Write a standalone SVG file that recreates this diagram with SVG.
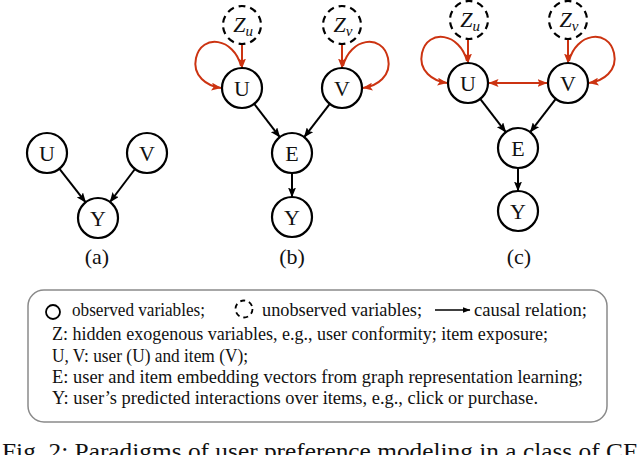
<svg xmlns="http://www.w3.org/2000/svg" width="640" height="455" viewBox="0 0 640 455">
<defs>
<marker id="ab" markerUnits="userSpaceOnUse" markerWidth="10" markerHeight="8" refX="9.5" refY="4" orient="auto">
<path d="M0,0 L10,4 L0,8 L2,4 z" fill="#000"/>
</marker>
<marker id="ar" markerUnits="userSpaceOnUse" markerWidth="10" markerHeight="8" refX="9.5" refY="4" orient="auto-start-reverse">
<path d="M0,0 L10,4 L0,8 L2,4 z" fill="#cc3311"/>
</marker>
<marker id="as" markerUnits="userSpaceOnUse" markerWidth="8" markerHeight="6" refX="7.5" refY="3" orient="auto">
<path d="M0,0 L8,3 L0,6 z" fill="#000"/>
</marker>
</defs>
<style>
text{font-family:'Liberation Serif','Times New Roman','DejaVu Serif',serif}
.n{fill:#fff;stroke:#000;stroke-width:2.2}
.z{fill:#fff;stroke:#000;stroke-width:2.2;stroke-dasharray:7 5;stroke-dashoffset:9.5}
.t{font-size:22px;fill:#111;text-anchor:middle}
.zt{font-style:italic;font-size:22px;fill:#111;text-anchor:middle}
.e{stroke:#000;stroke-width:2;fill:none;marker-end:url(#ab)}
.r{stroke:#cc3311;stroke-width:2;fill:none;marker-end:url(#ar)}
.lg{font-size:18px;fill:#111}
.cap{font-size:24px;fill:#111}
</style>

<g id="connectors">
<line class="e" x1="59.3" y1="168.7" x2="85.7" y2="202.3"/>
<line class="e" x1="135" y1="169" x2="110" y2="202"/>
<line class="e" x1="254.2" y1="103.8" x2="279.8" y2="137.2"/>
<line class="e" x1="329.8" y1="103.8" x2="304.2" y2="137.2"/>
<line class="e" x1="292" y1="173" x2="292" y2="197"/>
<line class="r" x1="242" y1="44" x2="242" y2="68"/>
<line class="r" x1="342" y1="44" x2="342" y2="68"/>
<path class="r" d="M241,66 C234,38 202,33 196,58 C192,76 207,86 221,88"/>
<path class="r" d="M343,66 C350,38 382,33 388,58 C392,76 377,86 363,88"/>
<line class="e" x1="480.2" y1="98.8" x2="505.8" y2="132.2"/>
<line class="e" x1="555.8" y1="98.8" x2="530.2" y2="132.2"/>
<line class="e" x1="518" y1="168" x2="518" y2="191"/>
<line class="r" x1="468" y1="39" x2="468" y2="63"/>
<line class="r" x1="568" y1="39" x2="568" y2="63"/>
<path class="r" d="M467,61 C460,33 428,28 422,53 C418,71 433,81 447,83"/>
<path class="r" d="M569,61 C576,33 608,28 614,53 C618,71 603,81 589,83"/>
<line class="r" x1="489" y1="83" x2="547" y2="83" marker-start="url(#ar)"/>
</g>

<g id="a-U"><circle class="n" cx="47" cy="153" r="20"/><text class="t" x="47" y="161">U</text></g>
<g id="a-V"><circle class="n" cx="147" cy="153" r="20"/><text class="t" x="147" y="161">V</text></g>
<g id="a-Y"><circle class="n" cx="98" cy="218" r="20"/><text class="t" x="98" y="226">Y</text></g>
<text class="t" x="97" y="264">(a)</text>

<g id="b-Zu"><circle class="z" cx="242" cy="25" r="19" pathLength="120"/><text class="zt" x="243" y="32">Z<tspan font-size="15" dy="4">u</tspan></text></g>
<g id="b-Zv"><circle class="z" cx="342" cy="25" r="19" pathLength="120"/><text class="zt" x="343" y="32">Z<tspan font-size="15" dy="4">v</tspan></text></g>
<g id="b-U"><circle class="n" cx="242" cy="88" r="20"/><text class="t" x="242" y="96">U</text></g>
<g id="b-V"><circle class="n" cx="342" cy="88" r="20"/><text class="t" x="342" y="96">V</text></g>
<g id="b-E"><circle class="n" cx="292" cy="153" r="20"/><text class="t" x="292" y="161">E</text></g>
<g id="b-Y"><circle class="n" cx="292" cy="217" r="20"/><text class="t" x="292" y="225">Y</text></g>
<text class="t" x="292" y="264">(b)</text>

<g id="c-Zu"><circle class="z" cx="469" cy="20" r="19" pathLength="120"/><text class="zt" x="470" y="27">Z<tspan font-size="15" dy="4">u</tspan></text></g>
<g id="c-Zv"><circle class="z" cx="568" cy="20" r="19" pathLength="120"/><text class="zt" x="569" y="27">Z<tspan font-size="15" dy="4">v</tspan></text></g>
<g id="c-U"><circle class="n" cx="468" cy="83" r="20"/><text class="t" x="468" y="91">U</text></g>
<g id="c-V"><circle class="n" cx="568" cy="83" r="20"/><text class="t" x="568" y="91">V</text></g>
<g id="c-E"><circle class="n" cx="518" cy="148" r="20"/><text class="t" x="518" y="156">E</text></g>
<g id="c-Y"><circle class="n" cx="518" cy="211" r="20"/><text class="t" x="518" y="219">Y</text></g>
<text class="t" x="519" y="264">(c)</text>

<g id="legend">
<rect x="28" y="290" width="579" height="132" rx="16" fill="#fff" stroke="#8a8a8a" stroke-width="1.5"/>
<circle cx="53" cy="312" r="7" fill="none" stroke="#000" stroke-width="1.8"/>
<text class="lg" x="72" y="316" textLength="133" lengthAdjust="spacingAndGlyphs">observed variables;</text>
<circle cx="244" cy="309" r="8.5" fill="none" stroke="#000" stroke-width="1.8" stroke-dasharray="5 4"/>
<text class="lg" x="262" y="316" textLength="160" lengthAdjust="spacingAndGlyphs">unobserved variables;</text>
<line x1="435" y1="310" x2="470" y2="310" stroke="#000" stroke-width="1.6" marker-end="url(#as)"/>
<text class="lg" x="474" y="316" textLength="113" lengthAdjust="spacingAndGlyphs">causal relation;</text>
<text class="lg" x="52" y="340" textLength="496" lengthAdjust="spacingAndGlyphs">Z: hidden exogenous variables, e.g., user conformity; item exposure;</text>
<text class="lg" x="52" y="362" textLength="196" lengthAdjust="spacingAndGlyphs">U, V: user (U) and item (V);</text>
<text class="lg" x="52" y="383" textLength="531" lengthAdjust="spacingAndGlyphs">E: user and item embedding vectors from graph representation learning;</text>
<text class="lg" x="52" y="404" textLength="486" lengthAdjust="spacingAndGlyphs">Y: user’s predicted interactions over items, e.g., click or purchase.</text>
</g>

<text class="cap" x="2" y="459" textLength="635" lengthAdjust="spacingAndGlyphs">Fig. 2: Paradigms of user preference modeling in a class of CF</text>
</svg>
